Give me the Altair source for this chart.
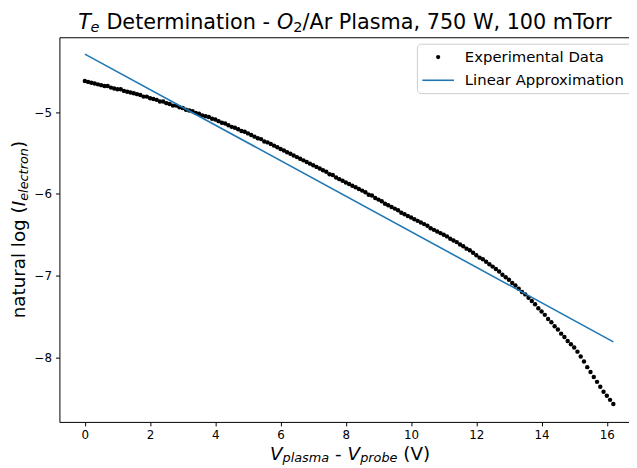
import altair as alt
import pandas as pd

# ---------------- data ----------------
x_exp = [0.0, 0.1, 0.2, 0.3, 0.4, 0.5, 0.6, 0.7, 0.8, 0.9,
         1.0, 1.1, 1.2, 1.3, 1.4, 1.5, 1.6, 1.7, 1.8, 1.9,
         2.0, 2.1, 2.2, 2.3, 2.4, 2.5, 2.6, 2.7, 2.8, 2.9,
         3.0, 3.1, 3.2, 3.3, 3.4, 3.5, 3.6, 3.7, 3.8, 3.9,
         4.0, 4.1, 4.2, 4.3, 4.4, 4.5, 4.6, 4.7, 4.8, 4.9,
         5.0, 5.1, 5.2, 5.3, 5.4, 5.5, 5.6, 5.7, 5.8, 5.9,
         6.0, 6.1, 6.2, 6.3, 6.4, 6.5, 6.6, 6.7, 6.8, 6.9,
         7.0, 7.1, 7.2, 7.3, 7.4, 7.5, 7.6, 7.7, 7.8, 7.9,
         8.0, 8.1, 8.2, 8.3, 8.4, 8.5, 8.6, 8.7, 8.8, 8.9,
         9.0, 9.1, 9.2, 9.3, 9.4, 9.5, 9.6, 9.7, 9.8, 9.9,
         10.0, 10.1, 10.2, 10.3, 10.4, 10.5, 10.6, 10.7, 10.8, 10.9,
         11.0, 11.1, 11.2, 11.3, 11.4, 11.5, 11.6, 11.7, 11.8, 11.9,
         12.0, 12.1, 12.2, 12.3, 12.4, 12.5, 12.6, 12.7, 12.8, 12.9,
         13.0, 13.1, 13.2, 13.3, 13.4, 13.5, 13.6, 13.7, 13.8, 13.9,
         14.0, 14.1, 14.2, 14.3, 14.4, 14.5, 14.6, 14.7, 14.8, 14.9,
         15.0, 15.1, 15.2, 15.3, 15.4, 15.5, 15.6, 15.7, 15.8, 15.9,
         16.0, 16.1, 16.2]

y_exp = [-4.62, -4.63, -4.64, -4.65, -4.66, -4.67, -4.68, -4.68, -4.70, -4.71,
         -4.72, -4.72, -4.74, -4.75, -4.76, -4.77, -4.78, -4.79, -4.81, -4.81,
         -4.83, -4.84, -4.85, -4.87, -4.87, -4.89, -4.90, -4.92, -4.92, -4.94,
         -4.95, -4.97, -4.98, -4.99, -5.01, -5.02, -5.04, -5.05, -5.06, -5.08,
         -5.09, -5.11, -5.13, -5.14, -5.16, -5.18, -5.19, -5.21, -5.23, -5.24,
         -5.26, -5.28, -5.30, -5.32, -5.33, -5.36, -5.37, -5.39, -5.41, -5.43,
         -5.45, -5.47, -5.49, -5.51, -5.53, -5.55, -5.57, -5.59, -5.61, -5.63,
         -5.65, -5.67, -5.69, -5.71, -5.73, -5.76, -5.77, -5.80, -5.82, -5.84,
         -5.86, -5.88, -5.90, -5.92, -5.94, -5.96, -5.98, -6.01, -6.02, -6.05,
         -6.07, -6.09, -6.12, -6.14, -6.16, -6.18, -6.20, -6.23, -6.25, -6.27,
         -6.29, -6.31, -6.33, -6.35, -6.37, -6.39, -6.42, -6.44, -6.46, -6.48,
         -6.50, -6.52, -6.55, -6.57, -6.59, -6.62, -6.64, -6.67, -6.69, -6.72,
         -6.75, -6.78, -6.80, -6.83, -6.86, -6.89, -6.92, -6.95, -6.99, -7.02,
         -7.05, -7.09, -7.12, -7.16, -7.20, -7.23, -7.27, -7.31, -7.35, -7.40,
         -7.44, -7.48, -7.53, -7.57, -7.62, -7.66, -7.71, -7.75, -7.80, -7.84,
         -7.88, -7.93, -7.99, -8.05, -8.12, -8.18, -8.24, -8.30, -8.36, -8.42,
         -8.47, -8.52, -8.57]

fit_x = [0.0, 16.2]
fit_y = [-4.29, -7.81]

series = ["Experimental Data", "Linear Approximation"]
colors = ["black", "#1f77b4"]

x_ticks = [0, 2, 4, 6, 8, 10, 12, 14, 16]
y_ticks = [-5, -6, -7, -8]

FONT = "DejaVu Sans"
W, H = 576, 389

df_exp = pd.DataFrame({"x": x_exp, "y": y_exp})
df_fit = pd.DataFrame({"x": fit_x, "y": fit_y})

xscale = alt.Scale(domain=[-0.78, 16.68], nice=False, zero=False)
yscale = alt.Scale(domain=[-8.79, -4.084], nice=False, zero=False)


def y_axis():
    return alt.Axis(orient="left", values=y_ticks, title=None, grid=False, format="d")


points = alt.Chart(df_exp).mark_circle(size=20, opacity=1, color=colors[0]).encode(
    x=alt.X("x:Q", scale=xscale,
            axis=alt.Axis(orient="bottom", values=x_ticks, title=None, grid=False, format="d")),
    y=alt.Y("y:Q", scale=yscale, axis=y_axis()),
)

line = alt.Chart(df_fit).mark_line(color=colors[1], strokeWidth=1.6).encode(
    x=alt.X("x:Q", scale=xscale,
            axis=alt.Axis(orient="top", labels=False, ticks=False, title=None,
                          grid=False, domain=True)),
    y=alt.Y("y:Q", scale=yscale, axis=y_axis()),
)


def txt(s, x, y, size, italic=False, angle=0, align="left", baseline="alphabetic"):
    return alt.Chart(pd.DataFrame({"t": [s]})).mark_text(
        font=FONT, fontSize=size, fontStyle="italic" if italic else "normal",
        align=align, baseline=baseline, angle=angle, color="black",
    ).encode(text="t:N", x=alt.value(x), y=alt.value(y))


# legend (matplotlib-style box)
leg_box = alt.Chart(pd.DataFrame({"t": ["legend"]})).mark_rect(
    fill="white", fillOpacity=0.8, stroke="#cccccc", strokeWidth=1, cornerRadius=4
).encode(x=alt.value(362), x2=alt.value(600), y=alt.value(7), y2=alt.value(57))
leg_dot = alt.Chart(pd.DataFrame({"t": [series[0]]})).mark_circle(
    size=18, opacity=1, color=colors[0]
).encode(x=alt.value(383), y=alt.value(20))
leg_line = alt.Chart(pd.DataFrame({"t": [series[1]]})).mark_rule(
    color=colors[1], strokeWidth=1.6
).encode(x=alt.value(367), x2=alt.value(399), y=alt.value(43.5))
leg_t1 = txt(series[0], 410, 20, 15, baseline="middle")
leg_t2 = txt(series[1], 410, 43.5, 15, baseline="middle")

# title with subscripts
title_parts = [
    txt("T", 19, -8, 21, italic=True),
    txt("e", 31.5, -5, 14.7, italic=True),
    txt("Determination -", 47.5, -8, 21),
    txt("O", 220, -8, 21, italic=True),
    txt("2", 236.5, -5, 14.7),
    txt("/Ar Plasma, 750 W, 100 mTorr", 245.8, -8, 21),
]

# x-axis title
xt = [
    txt("V", 213, 427, 18.5, italic=True),
    txt("plasma", 225.6, 429.6, 13, italic=True),
    txt("-", 278.8, 427, 18.5),
    txt("V", 291.4, 427, 18.5, italic=True),
    txt("probe", 304.1, 429.6, 13, italic=True),
    txt("(V)", 347.8, 427, 18.5),
]

# y-axis title (rotated)
yt = [
    txt("natural log (", -34.5, 284.2, 18.5, angle=270),
    txt("I", -34.5, 170.9, 18.5, italic=True, angle=270),
    txt("electron", -31.9, 165.4, 13, italic=True, angle=270),
    txt(")", -34.5, 112, 18.5, angle=270),
]

chart = alt.layer(
    points, line, leg_box, leg_dot, leg_line, leg_t1, leg_t2, *title_parts, *xt, *yt
).resolve_axis(x="independent").properties(
    width=W, height=H,
    autosize=alt.AutoSizeParams(type="none"),
    padding={"left": 52, "top": 27, "right": 0, "bottom": 44},
    background="white",
).configure_view(stroke=None).configure_axis(
    domainColor="black", domainWidth=1, tickColor="black", tickWidth=1, tickSize=4,
    labelFont=FONT, labelFontSize=12, labelColor="black", labelPadding=4,
)

chart.save("out.html", embed_options={"renderer": "svg", "actions": False})
